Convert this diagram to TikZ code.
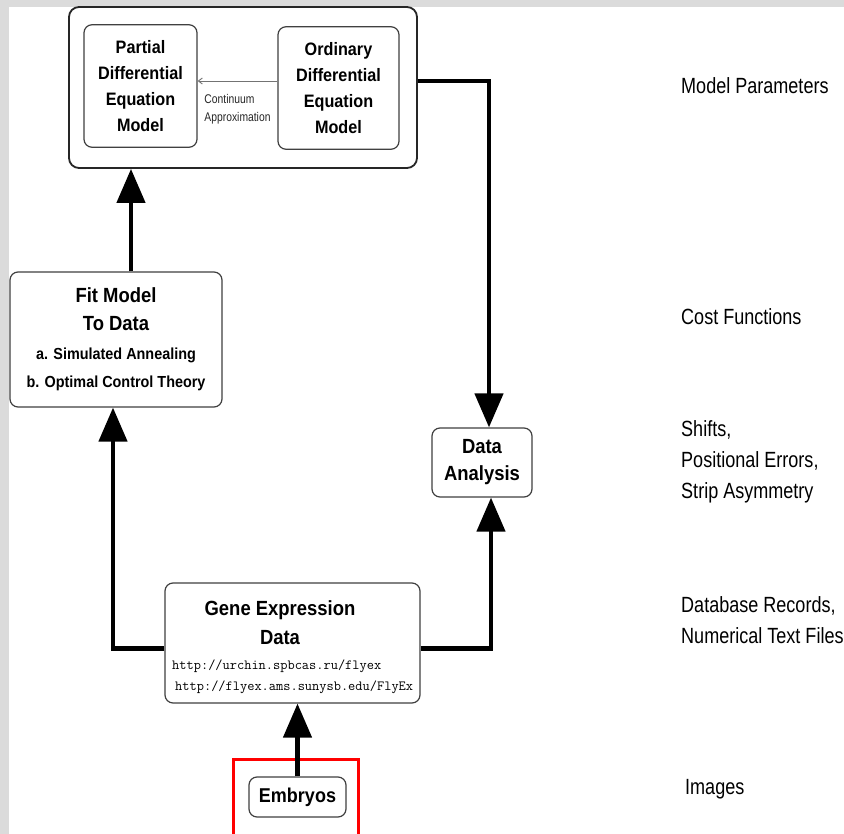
\documentclass[tikz,border=0pt]{standalone}
\usepackage{fontspec}
\setmainfont{Liberation Sans}
\newfontfamily\boxfont{Liberation Sans}[FakeStretch=0.9]
\newfontfamily\sidefont{Liberation Sans}[FakeStretch=0.82]
\usetikzlibrary{arrows.meta,positioning}

\tikzset{
  box/.style={draw=black!75, line width=1.2pt, rounded corners=8pt, fill=white,
    align=center, inner sep=0pt, font=\boxfont\bfseries},
  big/.style={line width=4.5pt, -{Triangle[length=34pt,width=28pt]}},
  thinarr/.style={draw=black!55, line width=0.9pt, -{Straight Barb[length=4pt,width=6pt]}},
  side/.style={anchor=west, align=left, inner sep=0pt, font=\sidefont\fontsize{22}{31}\selectfont},
  url/.style={anchor=west, inner sep=0pt, font=\ttfamily\fontsize{14}{18}\selectfont}
}
\newcommand{\subline}{\fontsize{16}{27}\selectfont}

\begin{document}
\begin{tikzpicture}[x=1pt,y=-1pt]
  \useasboundingbox (0,0) rectangle (844,834);
  \fill[black!14] (0,0) rectangle (844,834);
  \fill[white] (9,7) rectangle (844,834);

  % model box
  \node[box, draw=black!85, line width=1.8pt, rounded corners=10pt,
    minimum width=348, minimum height=161] (model) at (243,87.5) {};
  \node[box, minimum width=113, minimum height=122.5, font=\boxfont\bfseries\fontsize{18}{26}\selectfont]
    (pde) at (140.5,86) {Partial\\Differential\\Equation\\Model};
  \node[box, minimum width=121, minimum height=122.5, font=\boxfont\bfseries\fontsize{18}{26}\selectfont]
    (ode) at (338.5,88) {Ordinary\\Differential\\Equation\\Model};
  \draw[thinarr] ([yshift=7pt]ode.west) -- ([yshift=7pt]ode.west -| pde.east)
    node[midway, below=13pt, align=left, inner sep=0pt, text=black!85,
      font=\sidefont\fontsize{12.6}{18}\selectfont] (approx) {Continuum\\Approximation};

  \node[box, minimum width=212, minimum height=135, font=\boxfont\bfseries\fontsize{20.5}{28}\selectfont]
    (fit) at (116,339.5) {Fit Model\\To Data\\[1pt]\subline a. Simulated Annealing\\\subline b. Optimal Control Theory};
  \node[box, minimum width=100, minimum height=69, font=\boxfont\bfseries\fontsize{20.5}{27}\selectfont]
    (da) at (482,462.5) {Data\\Analysis};

  \node[box, minimum width=255, minimum height=120] (gene) at (292.5,643) {};
  \node[align=center, inner sep=0pt, font=\boxfont\bfseries\fontsize{20.5}{29}\selectfont]
    (genet) at (280,622.5) {Gene Expression\\Data};
  \node[url] (url1) at (172,666) {http://urchin.spbcas.ru/flyex};
  \node[url] (url2) at (175,687) {http://flyex.ams.sunysb.edu/FlyEx};

  \draw[red, line width=3pt] (233,759) rectangle (358,850);
  \node[box, minimum width=97, minimum height=40, font=\boxfont\bfseries\fontsize{20}{24}\selectfont]
    (emb) at (297.5,797) {Embryos};

  % connectors
  \draw[big] ([yshift=6.5pt]model.east) -| ([xshift=7pt]da.north);
  \draw[big] ([xshift=15pt]fit.north) -- ([xshift=15pt]fit.north |- model.south);
  \draw[big] ([yshift=-5.5pt]gene.west) -| ([xshift=-3pt]fit.south);
  \draw[big] ([yshift=-5.5pt]gene.east) -| ([xshift=9pt]da.south);
  \draw[big] (emb.north) -- (emb.north |- gene.south);

  % right column
  \node[side] (par) at (681,86) {Model Parameters};
  \node[side] (cost) at (681,317) {Cost Functions};
  \node[side] (shift) at (681,462) {Shifts,\\Positional Errors,\\Strip Asymmetry};
  \node[side] (rec) at (681,620.5) {Database Records,\\Numerical Text Files};
  \node[side] (img) at (685,789) {Images};
\end{tikzpicture}
\end{document}
